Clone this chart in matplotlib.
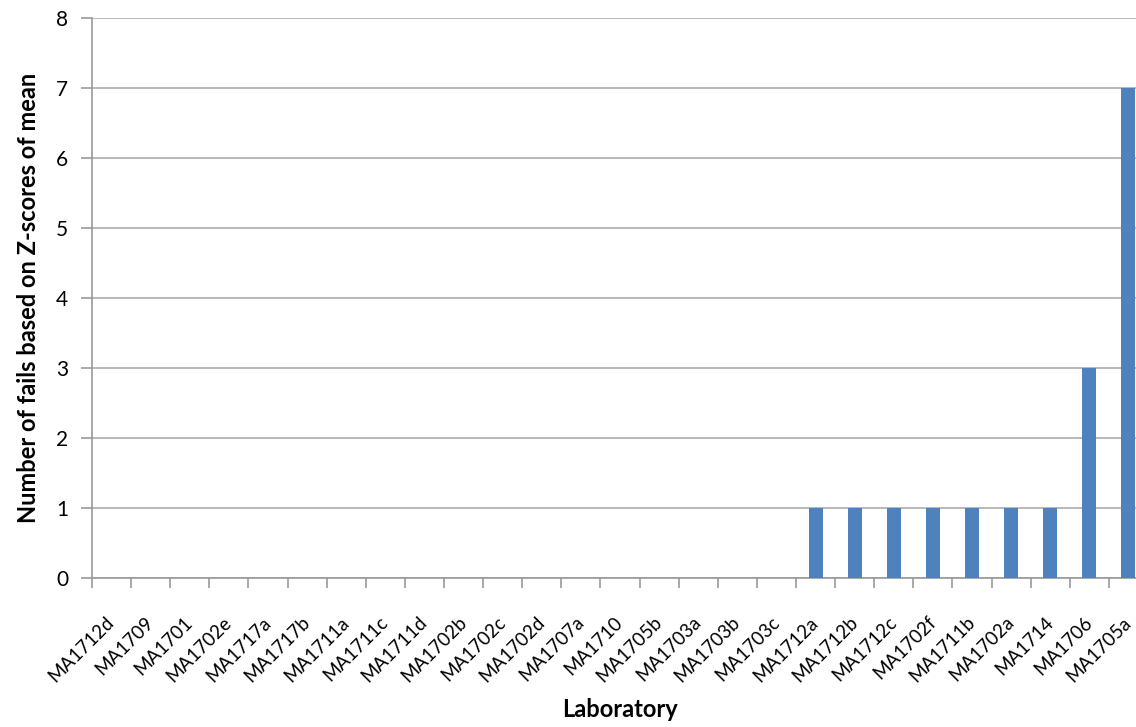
import numpy as np
import matplotlib
matplotlib.use("Agg")
import matplotlib.pyplot as plt

# ---------- Datos ----------
laboratorios = [
    "MA1712d", "MA1709", "MA1701", "MA1702e", "MA1717a", "MA1717b", "MA1711a",
    "MA1711c", "MA1711d", "MA1702b", "MA1702c", "MA1702d", "MA1707a", "MA1710",
    "MA1705b", "MA1703a", "MA1703b", "MA1703c", "MA1712a", "MA1712b", "MA1712c",
    "MA1702f", "MA1711b", "MA1702a", "MA1714", "MA1706", "MA1705a",
]
fallos = [0, 0, 0, 0, 0, 0, 0, 0, 0, 0, 0, 0, 0, 0,
          0, 0, 0, 0, 1, 1, 1, 1, 1, 1, 1, 3, 7]

plt.rcParams['font.family'] = ['Lato', 'DejaVu Sans']

fig = plt.figure(figsize=(11.36, 7.27), dpi=100)
ax = fig.add_axes([92 / 1136, 149 / 727, 1056 / 1136, 560 / 727])

x = np.arange(len(laboratorios))
ax.bar(x, fallos, width=0.36, color='#4F81BD', zorder=3)

ax.set_xlim(-0.5, len(laboratorios) - 0.5)
ax.set_ylim(0, 8)
ax.set_yticks(range(0, 9))
ax.yaxis.grid(True, color='#b3b3b3', linewidth=1.3, zorder=0)

# marcas en los limites entre categorias
ax.set_xticks(np.arange(-0.5, len(laboratorios) + 0.5, 1))
ax.set_xticklabels([])
ax.set_xticks(x, minor=True)
ax.set_xticklabels(laboratorios, minor=True, rotation=45, ha='right',
                   va='center', rotation_mode='anchor', fontsize=13.5)
ax.tick_params(axis='x', which='major', length=7, color='#999999', width=1.2)
ax.tick_params(axis='x', which='minor', length=0, pad=30)
ax.tick_params(axis='y', length=8, color='#999999', width=1.2, pad=9,
               labelsize=15)

for s in ['top', 'right']:
    ax.spines[s].set_visible(False)
for s in ['left', 'bottom']:
    ax.spines[s].set_color('#999999')
    ax.spines[s].set_linewidth(1.2)

ax.set_ylabel("Number of fails based on Z-scores of mean", fontsize=17,
              fontweight='bold', labelpad=12)
ax.set_xlabel("Laboratory", fontsize=17, fontweight='bold', labelpad=9)

fig.savefig("out.png", dpi=100)
